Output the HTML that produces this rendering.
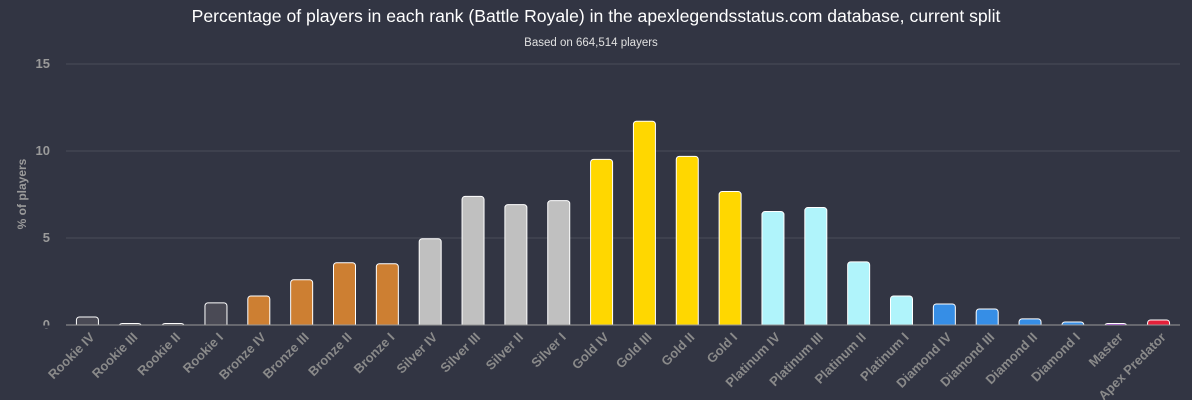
<!DOCTYPE html>
<html><head><meta charset="utf-8"><style>
body{margin:0;background:#323543;}
svg{display:block;font-family:"Liberation Sans",sans-serif;}
</style></head><body>
<svg id="c" width="1192" height="400">
<rect width="1192" height="400" fill="#323543"/>
<text x="596" y="22" fill="#ffffff" font-size="17.6" text-anchor="middle">Percentage of players in each rank (Battle Royale) in the apexlegendsstatus.com database, current split</text>
<text x="591" y="46" fill="#e0e0e0" font-size="11.5" text-anchor="middle">Based on 664,514 players</text>
<text transform="translate(26,194) rotate(-90)" fill="#9a9a9a" font-size="12" font-weight="bold" text-anchor="middle">% of players</text>
<g id="grid"></g><g id="bars"></g><g id="labels"></g>
</svg>
<script>
const categories=["Rookie IV","Rookie III","Rookie II","Rookie I","Bronze IV","Bronze III","Bronze II","Bronze I","Silver IV","Silver III","Silver II","Silver I","Gold IV","Gold III","Gold II","Gold I","Platinum IV","Platinum III","Platinum II","Platinum I","Diamond IV","Diamond III","Diamond II","Diamond I","Master","Apex Predator"];
const values=[0.46,0.05,0.05,1.27,1.67,2.6,3.58,3.52,4.96,7.39,6.92,7.15,9.52,11.71,9.69,7.67,6.52,6.75,3.63,1.67,1.21,0.92,0.35,0.17,0.08,0.29];
const tiers=["r","r","r","r","b","b","b","b","s","s","s","s","g","g","g","g","p","p","p","p","d","d","d","d","m","a"];
const yTicks=[0,5,10,15];
const colors={r:"#4a4a55",b:"#cd7f32",s:"#c0c0c0",g:"#ffd700",p:"#b0f4fb",d:"#368ee6",m:"#b03cf0",a:"#e5203a"};
const NS="http://www.w3.org/2000/svg";
const L=66,R=1180,T=64,B=325,max=15;
const y=v=>B-(v/max)*(B-T);
const bw=(R-L)/categories.length;
const x=i=>L+bw*(i+0.5);
function mk(t,a,p){const e=document.createElementNS(NS,t);for(const k in a)e.setAttribute(k,a[k]);p.appendChild(e);return e;}
const g=document.getElementById('grid');
yTicks.forEach(t=>{
 const ln=mk('line',{x1:L,x2:R,y1:y(t),y2:y(t),stroke:t===0?'#999':'#4a4d5a','stroke-width':1},g);
 
 
 const tx=mk('text',{x:50,y:y(t)+4,fill:'#9a9a9a','font-size':13,'font-weight':'bold','text-anchor':'end'},g);
 tx.textContent=t;
 
 
});
const bg=document.getElementById('bars'),lg=document.getElementById('labels');
categories.forEach((c,i)=>{
 const h=Math.max(B-y(values[i]),1.5);
 const r=mk('rect',{x:x(i)-11,y:B-h,width:22,height:h+3,rx:3,fill:colors[tiers[i]],stroke:'#ffffff','stroke-width':1},bg);
 
 
 const t=mk('text',{transform:`translate(${x(i)+8},${B+13}) rotate(-45)`,fill:'#8a8a8a','font-size':13,'font-weight':'bold','text-anchor':'end'},lg);
 t.textContent=c;
 
 
});
mk('rect',{x:0,y:B+0.5,width:1192,height:3,fill:'#323543'},bg);
mk('line',{x1:L,x2:R,y1:B,y2:B,stroke:'#999','stroke-width':1},bg);
</script>
</body></html>
